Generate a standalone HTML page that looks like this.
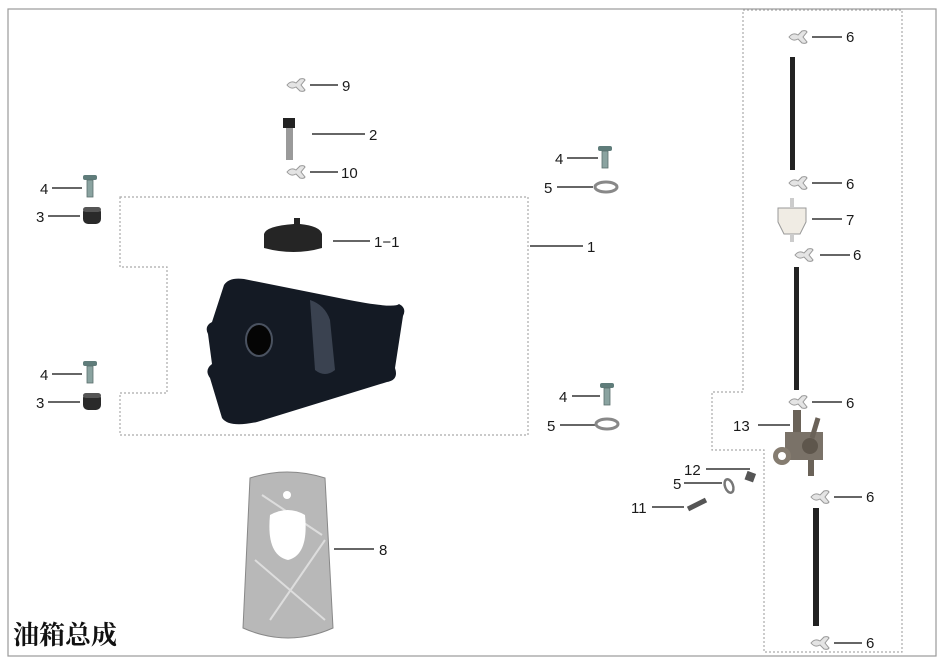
<!DOCTYPE html>
<html><head><meta charset="utf-8"><style>
html,body{margin:0;padding:0;background:#fff}
svg{display:block}
text{font-family:"Liberation Sans",Arial,sans-serif;font-size:15px;fill:#1a1a1a}
</style></head><body>
<svg width="943" height="666" viewBox="0 0 943 666" xmlns="http://www.w3.org/2000/svg">
<defs>
<g id="clip"><path d="M-11,0 q4,-5 9,-2 l4,-4 q4,-1 5,1 l-4,5 l4,5 q-1,2 -5,1 l-4,-4 q-5,3 -9,-2z" fill="#e4e4e4" stroke="#999" stroke-width="1"/></g>
<g id="bolt"><rect x="-7" y="0" width="14" height="5" rx="2" fill="#5f7c7a"/><rect x="-3" y="5" width="6" height="17" fill="#8aa3a0" stroke="#5a6f6d" stroke-width="0.8"/></g>
<g id="rub"><rect x="-9" y="0" width="18" height="17" rx="5" fill="#2a2a2a"/><rect x="-9" y="0" width="18" height="5" rx="3" fill="#555"/></g>
<g id="wash"><ellipse cx="0" cy="0" rx="11" ry="5" fill="none" stroke="#888" stroke-width="3"/></g>
</defs>
<rect x="8" y="9" width="928" height="647" fill="none" stroke="#9a9a9a" stroke-width="1.2"/>
<g fill="none" stroke="#aaa" stroke-width="1.2" stroke-dasharray="2,2">
<path d="M120,197 H528 V435 H120 V393 H167 V267 H120 Z"/>
<path d="M743,10 H902 V652 H764 V450 H712 V392 H743 Z"/>
</g>
<g stroke="#333" stroke-width="1.4">
<line x1="310" y1="85" x2="338" y2="85"/><line x1="312" y1="134" x2="365" y2="134"/><line x1="310" y1="172" x2="338" y2="172"/>
<line x1="52" y1="188" x2="82" y2="188"/><line x1="48" y1="216" x2="80" y2="216"/>
<line x1="52" y1="374" x2="82" y2="374"/><line x1="48" y1="402" x2="80" y2="402"/>
<line x1="567" y1="158" x2="598" y2="158"/><line x1="557" y1="187" x2="593" y2="187"/>
<line x1="572" y1="396" x2="600" y2="396"/><line x1="560" y1="425" x2="595" y2="425"/>
<line x1="530" y1="246" x2="583" y2="246"/><line x1="333" y1="241" x2="370" y2="241"/><line x1="334" y1="549" x2="374" y2="549"/>
<line x1="812" y1="37" x2="842" y2="37"/><line x1="812" y1="183" x2="842" y2="183"/><line x1="812" y1="219" x2="842" y2="219"/>
<line x1="820" y1="255" x2="850" y2="255"/><line x1="812" y1="402" x2="842" y2="402"/><line x1="834" y1="497" x2="862" y2="497"/>
<line x1="834" y1="643" x2="862" y2="643"/><line x1="758" y1="425" x2="790" y2="425"/>
<line x1="706" y1="469" x2="750" y2="469"/><line x1="684" y1="483" x2="722" y2="483"/><line x1="652" y1="507" x2="684" y2="507"/>
</g>
<use href="#clip" x="298" y="85"/><use href="#clip" x="298" y="172"/>
<rect x="283" y="118" width="12" height="10" fill="#222"/><rect x="286" y="128" width="7" height="32" fill="#9a9a9a"/>
<use href="#bolt" x="90" y="175"/><use href="#rub" x="92" y="207"/>
<use href="#bolt" x="90" y="361"/><use href="#rub" x="92" y="393"/>
<use href="#bolt" x="605" y="146"/><use href="#wash" x="606" y="187"/>
<use href="#bolt" x="607" y="383"/><use href="#wash" x="607" y="424"/>
<path d="M264,234 q2,-8 30,-10 l0,-6 h6 v6 q20,2 22,10 v14 q-28,8 -58,0z" fill="#252525"/>
<path d="M224,285 q5,-8 20,-6 l100,20 q50,10 55,5 q8,4 4,12 l-8,52 q4,12 -8,14 l-130,40 q-28,6 -35,-4 l-12,-40 q-6,-8 2,-14 l-4,-30 q-4,-8 4,-12z" fill="#141a24"/>
<path d="M310,300 q15,5 20,20 l5,50 q-10,8 -20,0z" fill="#3a4250"/>
<ellipse cx="259" cy="340" rx="13" ry="16" fill="#050505" stroke="#4a5260" stroke-width="2"/>
<path d="M250,478 q37,-12 75,0 l8,150 q-45,20 -90,0z" fill="#b8b8b8" stroke="#888"/>
<path d="M262,495 l60,40 M255,560 l70,60 M270,620 l55,-80" stroke="#ddd" stroke-width="2"/>
<circle cx="287" cy="495" r="4" fill="#fff"/>
<path d="M270,515 q18,-10 35,0 q4,40 -17,45 q-22,-5 -18,-45z" fill="#fff"/>
<use href="#clip" x="800" y="37"/><rect x="790" y="57" width="5" height="113" fill="#222"/>
<use href="#clip" x="800" y="183"/>
<path d="M778,208 h28 v14 l-6,12 h-16 l-6,-12z" fill="#f0ece4" stroke="#999"/><rect x="790" y="198" width="4" height="10" fill="#ccc"/><rect x="790" y="234" width="4" height="8" fill="#ccc"/>
<use href="#clip" x="806" y="255"/><rect x="794" y="267" width="5" height="123" fill="#222"/>
<use href="#clip" x="800" y="402"/>
<rect x="793" y="410" width="8" height="24" fill="#6a6258"/>
<path d="M785,432 h38 v28 h-38z" fill="#7a7268"/><circle cx="782" cy="456" r="9" fill="#857c70"/><circle cx="782" cy="456" r="4" fill="#fff"/>
<circle cx="810" cy="446" r="8" fill="#5e564c"/><line x1="812" y1="438" x2="818" y2="418" stroke="#6a6258" stroke-width="5"/><rect x="808" y="460" width="6" height="16" fill="#6a6258"/>
<use href="#clip" x="822" y="497"/><rect x="813" y="508" width="6" height="118" fill="#222"/>
<use href="#clip" x="822" y="643"/>
<rect x="746" y="472" width="9" height="9" fill="#555" transform="rotate(20 750 476)"/>
<ellipse cx="729" cy="486" rx="4" ry="7" fill="none" stroke="#777" stroke-width="2.5" transform="rotate(-20 729 486)"/>
<line x1="688" y1="509" x2="706" y2="500" stroke="#555" stroke-width="5"/>
<text x="342" y="91">9</text><text x="369" y="140">2</text><text x="341" y="178">10</text>
<text x="40" y="194">4</text><text x="36" y="222">3</text><text x="40" y="380">4</text><text x="36" y="408">3</text>
<text x="555" y="164">4</text><text x="544" y="193">5</text><text x="559" y="402">4</text><text x="547" y="431">5</text>
<text x="587" y="252">1</text><text x="374" y="247">1−1</text><text x="379" y="555">8</text>
<text x="846" y="42">6</text><text x="846" y="189">6</text><text x="846" y="225">7</text><text x="853" y="260">6</text>
<text x="846" y="408">6</text><text x="866" y="502">6</text><text x="866" y="648">6</text>
<text x="733" y="431">13</text><text x="684" y="475">12</text><text x="673" y="489">5</text><text x="631" y="513">11</text>
<text x="13" y="644" style="font-family:'Liberation Sans','Noto Serif CJK SC','Noto Sans CJK SC',serif;font-size:26px;font-weight:bold;fill:#111">油箱总成</text>
</svg>
</body></html>
